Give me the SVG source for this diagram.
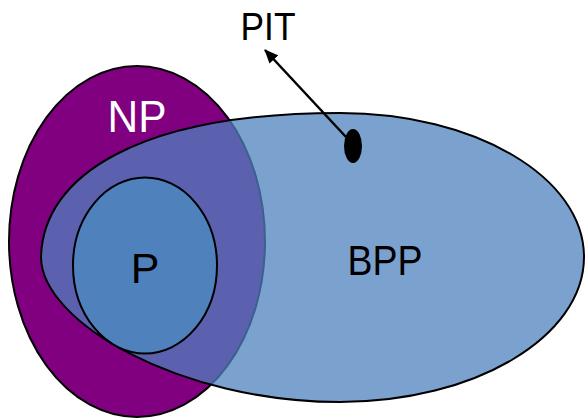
<svg xmlns="http://www.w3.org/2000/svg" width="585" height="419" viewBox="0 0 585 419">
  <style>
    .label { font-family: "Liberation Sans", Arial, sans-serif; text-anchor: middle; }
    .set { stroke: #000; stroke-width: 2; }
  </style>
  <defs>
    <marker id="arrowhead" viewBox="0 0 14 12" refX="13" refY="6" markerWidth="14" markerHeight="12" markerUnits="userSpaceOnUse" orient="auto">
      <path d="M0,0 L14,6 L0,12 z" fill="#000"/>
    </marker>
  </defs>
  <rect width="585" height="419" fill="#fff"/>

  <!-- NP class -->
  <g id="np">
    <ellipse class="set" cx="137" cy="241.5" rx="128" ry="175.5" fill="#800080"/>
    <text class="label" x="137" y="132" font-size="44" fill="#fff" textLength="59" lengthAdjust="spacingAndGlyphs">NP</text>
  </g>

  <!-- BPP class, translucent over NP -->
  <g id="bpp">
    <path class="set" fill="#4f81bd" fill-opacity="0.75"
      d="M41,257 C43,175 140,113 340,113 C474.7,113 584,177 584,257 C584,337 474.7,402 340,402 C180,402 41,322 41,257 Z"/>
    <text class="label" x="385" y="275" font-size="43" fill="#000" textLength="75" lengthAdjust="spacingAndGlyphs">BPP</text>
  </g>

  <!-- P class -->
  <g id="p">
    <ellipse class="set" cx="145" cy="265.5" rx="72" ry="88" fill="#4f81bd"/>
    <text class="label" x="145" y="283" font-size="43" fill="#000">P</text>
  </g>

  <!-- PIT point and label -->
  <g id="pit">
    <ellipse cx="353" cy="146" rx="9" ry="17" fill="#000"/>
    <text class="label" x="268" y="40" font-size="39" fill="#000" textLength="55" lengthAdjust="spacingAndGlyphs">PIT</text>
  </g>

  <g id="connectors">
    <line x1="346" y1="137" x2="265" y2="50" stroke="#000" stroke-width="2.5" marker-end="url(#arrowhead)"/>
  </g>
</svg>
